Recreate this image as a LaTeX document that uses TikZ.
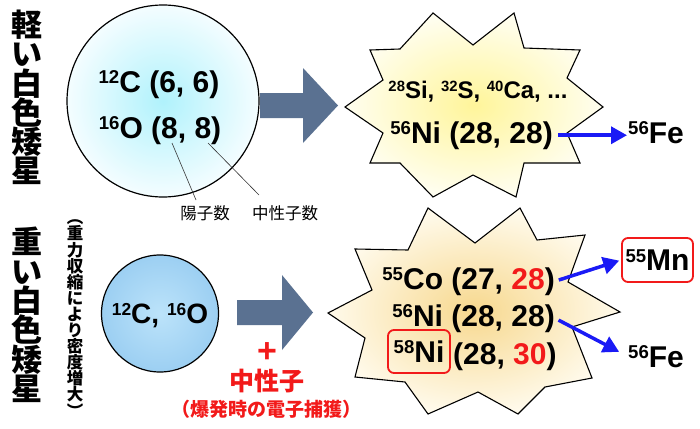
\documentclass[tikz,border=0pt]{standalone}
\usepackage{fontspec}
\setmainfont{Liberation Sans}
\newfontfamily\jp{Noto Sans CJK JP}
\usetikzlibrary{arrows.meta}
\definecolor{slate}{HTML}{5A7191}
\definecolor{myred}{HTML}{F21A1A}
\definecolor{myblue}{HTML}{1A1AF5}
\definecolor{cyanin}{HTML}{B0F2FC}
\definecolor{cyanout}{HTML}{F4FDFF}
\definecolor{bluein}{HTML}{BCE3FA}
\definecolor{blueout}{HTML}{9CCFF2}
\definecolor{yelin}{HTML}{FFF59A}
\definecolor{yelout}{HTML}{FFFEF0}
\definecolor{orin}{HTML}{F7D88E}
\definecolor{orout}{HTML}{FFFAEB}
\newcommand{\iso}[2]{\raisebox{0.28em}{\scalebox{0.62}{#1}}#2}
\newcommand{\fsz}[1]{\fontsize{#1}{#1}\selectfont}
\newcommand{\tightlines}{\lineskiplimit=-100pt\relax}
\newcommand{\bigvfont}{\jp\bfseries\fontsize{31}{29.3}\selectfont\tightlines}
\newcommand{\smallvfont}{\jp\bfseries\fontsize{16.5}{16.1}\selectfont\tightlines}
\begin{document}
\begin{tikzpicture}[x=1pt,y=-1pt,
  txt/.style={inner sep=0pt, font=\bfseries\fsz{#1}},
  jptxt/.style={inner sep=0pt, font=\jp\bfseries\fsz{#1}},
  lbltxt/.style={inner sep=0pt, font=\jp\fsz{16.5}},
  bigv/.style={inner sep=0pt, align=center, font=\bigvfont},
  smallv/.style={inner sep=0pt, align=center, font=\smallvfont},
  redbox/.style={draw=myred, line width=1.8pt, rounded corners=6pt},
  barrow/.style={draw=myblue, line width=3.5pt, -{Triangle[length=16pt,width=17pt]}},
  thinline/.style={draw=black!80, line width=0.6pt},
  starline/.style={draw=black, line width=1.1pt, line join=miter}
]
\useasboundingbox (0,0) rectangle (700,428);

% left vertical labels
\node[bigv] (lw) at (27,97.5) {軽\\い\\白\\色\\矮\\星};
\node[bigv] (hw) at (27,315) {重\\い\\白\\色\\矮\\星};
\node[smallv] (grav) at (75,318.5) {︵\\重\\力\\収\\縮\\に\\よ\\り\\密\\度\\増\\大\\︶};

% circles
\node[circle, draw, line width=1.2pt, minimum size=192pt, inner sep=0pt, inner color=cyanin, outer color=cyanout] (c1) at (163,101) {};
\node[circle, draw, line width=1.2pt, minimum size=117pt, inner sep=0pt, inner color=bluein, outer color=blueout] (c2) at (160,313.5) {};

\node[txt=30, anchor=base] (c12) at (159,92) {\iso{12}{C} (6, 6)};
\node[txt=30, anchor=base] (o16) at (160,138) {\iso{16}{O} (8, 8)};
\node[txt=28, anchor=base] (co2) at (160,323) {\iso{12}{C}, \iso{16}{O}};

% proton / neutron labels
\node[lbltxt] (lp) at (205,213) {陽子数};
\node[lbltxt] (ln) at (285,213) {中性子数};
\coordinate (p1) at (172,143);
\coordinate (q1) at (196,200);
\coordinate (p2) at (208,143);
\coordinate (q2) at (259,195);
\draw[thinline] (p1) -- (q1);
\draw[thinline] (p2) -- (q2);

% big arrows
\fill[slate] (260,93) -- (303,93) -- (303,68) -- (338,105.5) -- (303,143) -- (303,118) -- (260,118) -- cycle;
\fill[slate] (237,300) -- (282,300) -- (282,275) -- (313,312.5) -- (282,350) -- (282,325) -- (237,325) -- cycle;

% top star
\shade[starline, inner color=yelin, outer color=yelout]
  (345,107) -- (383,80) -- (370,50) -- (400,49) -- (433,13) -- (473,45) -- (514,13) -- (524,48)
  -- (580,50) -- (567,78) -- (603,107) -- (567,133) -- (580,163) -- (524,163) -- (516,197)
  -- (473,175) -- (433,197) -- (400,163) -- (370,163) -- (383,133) -- cycle;

\node[txt=24, anchor=base] (si) at (478,98) {\iso{28}{Si}, \iso{32}{S}, \iso{40}{Ca}, ...};
\node[txt=30, anchor=base east] (ni1) at (553,143) {\iso{56}{Ni} (28, 28)};
\node[txt=30, anchor=base west] (fe1) at (628,143) {\iso{56}{Fe}};
\draw[barrow, shorten <=5pt, shorten >=1pt] (ni1.east) -- (ni1.east -| fe1.west);

% lower star
\shade[starline, inner color=orin, outer color=orout]
  (328,313) -- (372,290) -- (355,249) -- (408,250) -- (428,208) -- (475,243) -- (520,208) -- (537,240)
  -- (585,235) -- (568,282) -- (620,312) -- (572,327) -- (592,378) -- (545,387) -- (518,414)
  -- (478,392) -- (428,414) -- (405,382) -- (355,377) -- (365,338) -- cycle;

\node[txt=30, anchor=base east] (co) at (555,289) {\iso{55}{Co} (27, \textcolor{myred}{28})};
\node[txt=30, anchor=base east] (ni2) at (555,326) {\iso{56}{Ni} (28, 28)};
\node[redbox, txt=30, minimum width=62pt, minimum height=43pt] (ni58) at (419,351.5) {\iso{58}{Ni}};
\node[txt=30, anchor=base west] (nirest) at (453,364) {(28, \textcolor{myred}{30})};
\node[redbox, txt=30, minimum width=71pt, minimum height=44pt] (mn) at (657.5,260) {\iso{55}{Mn}};
\node[txt=30, anchor=base west] (fe2) at (628,367) {\iso{56}{Fe}};
\draw[barrow, shorten <=4pt, shorten >=2pt] (co.east) -- (mn.west);
\draw[barrow, shorten <=4pt, shorten >=10pt] (ni2.east) -- (fe2.west);

% neutron capture text
\node[txt=34, text=myred] (plus) at (267,353) {+};
\node[jptxt=25, text=myred] (neut) at (267,381) {中性子};
\node[jptxt=19, text=myred] (capt) at (266,409) {（爆発時の電子捕獲）};
\end{tikzpicture}
\end{document}
